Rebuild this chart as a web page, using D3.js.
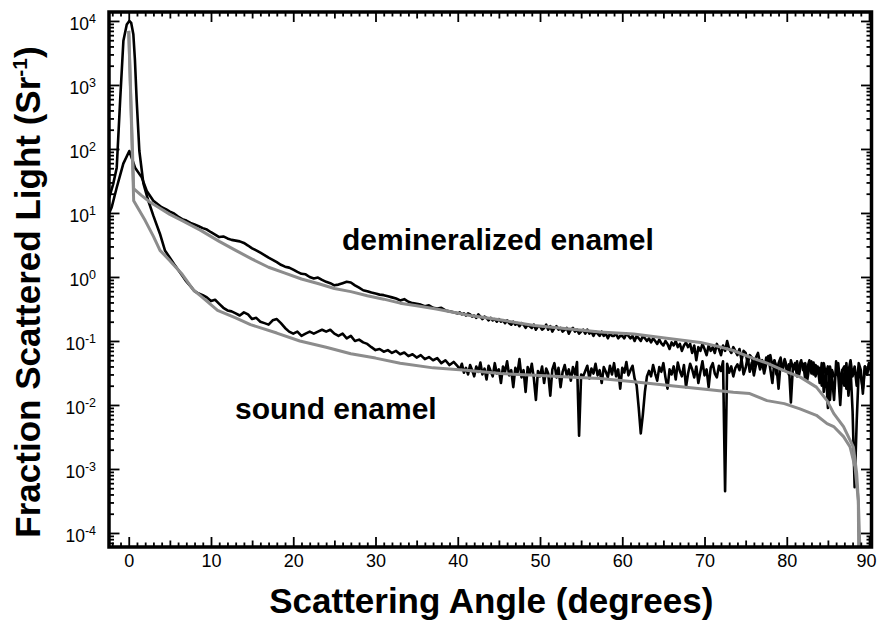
<!DOCTYPE html>
<html><head><meta charset="utf-8">
<script src="https://cdn.jsdelivr.net/npm/d3@7"></script>
<style>body{margin:0;background:#fff}svg{display:block}</style>
</head><body>
<svg id="chart" width="878" height="625"></svg>
<script>
// ---------------- DATA ----------------
const xTickValues = [0, 10, 20, 30, 40, 50, 60, 70, 80, 90];
const yTickExponents = [4, 3, 2, 1, 0, -1, -2, -3, -4];
const xTitle = "Scattering Angle (degrees)";
const yTitleMain = "Fraction Scattered Light (Sr";
const yTitleSup = "-1";
const labelDemin = "demineralized enamel";
const labelSound = "sound enamel";

// measured, sound enamel (black) – peak region
const soundHeadAngles = [-2.4, -1.9, -1.46, -1.05, -0.65, -0.24, 0.07, 0.3, 0.56, 0.75, 0.97, 1.29, 1.78, 2.38, 3.0, 3.8, 4.4];
const soundHeadValues = [17, 28, 51, 560, 4900, 8800, 10000, 9300, 6200, 2500, 560, 93, 29, 15.5, 9, 4.7, 2.6];
// 5.0 .. 39.5 every 0.5 deg
const soundMidValues = [2.0, 1.6, 1.3, 1.05, 0.85, 0.72, 0.60, 0.55, 0.52, 0.48,
  0.42, 0.44, 0.38, 0.33, 0.30, 0.29, 0.27, 0.25, 0.28, 0.26,
  0.22, 0.23, 0.20, 0.19, 0.18, 0.21, 0.22, 0.19, 0.16, 0.14,
  0.13, 0.14, 0.12, 0.13, 0.14, 0.13, 0.14, 0.15, 0.14, 0.15,
  0.13, 0.12, 0.13, 0.11, 0.12, 0.10, 0.105, 0.095, 0.09, 0.08,
  0.072, 0.075, 0.068, 0.072, 0.065, 0.07, 0.062, 0.066, 0.058, 0.062,
  0.055, 0.06, 0.052, 0.056, 0.05, 0.054, 0.045, 0.05, 0.042, 0.047];
// 40.0 .. 90.25 every 0.25 deg
const soundTailValues = [
  0.040, 0.036, 0.044, 0.032, 0.038, 0.030, 0.042, 0.035, 0.028, 0.040, 0.033, 0.046,
  0.030, 0.037, 0.025, 0.041, 0.034, 0.028, 0.045, 0.031, 0.036, 0.022, 0.040, 0.033,
  0.048, 0.029, 0.035, 0.019, 0.038, 0.031, 0.052, 0.027, 0.035, 0.016, 0.039, 0.030,
  0.044, 0.026, 0.012, 0.034, 0.028, 0.040, 0.022, 0.037, 0.031, 0.014, 0.036, 0.045,
  0.027, 0.038, 0.019, 0.033, 0.042, 0.029, 0.036, 0.024, 0.039, 0.030, 0.047, 0.0033,
  0.030, 0.028, 0.034, 0.041, 0.026, 0.037, 0.031, 0.044, 0.029, 0.035, 0.022, 0.039,
  0.033, 0.027, 0.041, 0.030, 0.045, 0.028, 0.036, 0.018, 0.038, 0.032, 0.047, 0.029,
  0.035, 0.041, 0.026, 0.020, 0.009, 0.0036, 0.007, 0.016, 0.028, 0.034, 0.028, 0.042,
  0.031, 0.024, 0.039, 0.033, 0.045, 0.027, 0.018, 0.036, 0.030, 0.040, 0.025, 0.046,
  0.034, 0.028, 0.042, 0.019, 0.031, 0.044, 0.036, 0.027, 0.040, 0.022, 0.033, 0.048,
  0.029, 0.036, 0.019, 0.038, 0.045, 0.031, 0.027, 0.041, 0.034, 0.048, 0.00045, 0.044,
  0.032, 0.040, 0.028, 0.038, 0.043, 0.035, 0.052, 0.030, 0.038, 0.056, 0.033, 0.046,
  0.029, 0.042, 0.050, 0.036, 0.047, 0.031, 0.044, 0.058, 0.036, 0.022, 0.049, 0.040,
  0.018, 0.045, 0.038, 0.052, 0.034, 0.043, 0.011, 0.040, 0.036, 0.048, 0.030, 0.044,
  0.044, 0.025, 0.038, 0.050, 0.031, 0.046, 0.028, 0.040, 0.022, 0.045, 0.016, 0.036,
  0.009, 0.040, 0.027, 0.012, 0.048, 0.030, 0.010, 0.035, 0.020, 0.045, 0.014, 0.038,
  0.008, 0.00052, 0.0055, 0.035, 0.028, 0.018, 0.040, 0.030, 0.045, 0.033];

// measured, demineralized enamel (black)
const deminHeadAngles = [-2.4, -2.07, -1.46, -0.66, 0.07, 0.77, 1.58, 2.19, 2.99, 4.0, 4.5];
const deminHeadValues = [9.8, 12.3, 25, 59, 93, 51, 36, 22, 15.5, 12.3, 11.5];
const deminMidValues = [10.5, 9.8, 8.8, 8.0, 7.6, 7.0, 6.6, 6.2, 5.8, 5.5,
  5.0, 4.6, 4.2, 4.3, 4.0, 3.8, 3.7, 3.6, 3.4, 3.1,
  2.8, 2.6, 2.4, 2.2, 2.0, 1.85, 1.7, 1.55, 1.45, 1.40,
  1.3, 1.2, 1.12, 1.1, 1.0, 0.95, 0.98, 0.90, 0.84, 0.80,
  0.74, 0.76, 0.80, 0.84, 0.82, 0.74, 0.68, 0.62, 0.60, 0.57,
  0.55, 0.53, 0.52, 0.50, 0.48, 0.46, 0.43, 0.45, 0.41, 0.39,
  0.38, 0.37, 0.35, 0.36, 0.33, 0.32, 0.33, 0.30, 0.29, 0.28];
const deminTailValues = [
  0.27, 0.28, 0.26, 0.27, 0.25, 0.27, 0.26, 0.24, 0.25, 0.23, 0.26, 0.24,
  0.22, 0.24, 0.23, 0.21, 0.23, 0.21, 0.22, 0.20, 0.22, 0.20, 0.21, 0.19,
  0.21, 0.19, 0.18, 0.20, 0.18, 0.19, 0.17, 0.19, 0.18, 0.16, 0.18, 0.17,
  0.16, 0.18, 0.15, 0.17, 0.17, 0.15, 0.16, 0.18, 0.15, 0.17, 0.14, 0.16,
  0.17, 0.15, 0.16, 0.14, 0.15, 0.16, 0.13, 0.15, 0.16, 0.14, 0.15, 0.13,
  0.14, 0.15, 0.13, 0.15, 0.13, 0.14, 0.12, 0.14, 0.13, 0.12, 0.14, 0.12,
  0.13, 0.11, 0.13, 0.12, 0.12, 0.13, 0.11, 0.12, 0.12, 0.11, 0.13, 0.12,
  0.11, 0.12, 0.10, 0.12, 0.11, 0.10, 0.12, 0.11, 0.10, 0.11, 0.095, 0.11,
  0.10, 0.09, 0.105, 0.092, 0.085, 0.10, 0.09, 0.075, 0.095, 0.085, 0.10, 0.08,
  0.09, 0.07, 0.085, 0.095, 0.08, 0.09, 0.065, 0.085, 0.05, 0.08, 0.07, 0.09,
  0.075, 0.06, 0.085, 0.07, 0.08, 0.065, 0.09, 0.075, 0.06, 0.085, 0.07, 0.10,
  0.075, 0.065, 0.08, 0.07, 0.06, 0.075, 0.05, 0.07, 0.065, 0.045, 0.06, 0.055,
  0.04, 0.055, 0.065, 0.045, 0.05, 0.035, 0.055, 0.045, 0.06, 0.04, 0.05, 0.03,
  0.045, 0.055, 0.035, 0.05, 0.04, 0.03, 0.05, 0.038, 0.045, 0.028, 0.04, 0.05,
  0.035, 0.045, 0.025, 0.04, 0.048, 0.03, 0.042, 0.035, 0.038, 0.02, 0.045, 0.03,
  0.04, 0.012, 0.035, 0.028, 0.03, 0.045, 0.022, 0.035, 0.04, 0.018, 0.033, 0.05,
  0.028, 0.04, 0.02, 0.045, 0.035, 0.015, 0.04, 0.03, 0.045, 0.035];

// model fits (grey)
const deminFitAngles = [0.0, 0.6, 1.5, 2.5, 3.6, 5, 6.5, 8.7, 11, 13, 15, 17, 19, 21, 23, 25, 27, 29, 31, 33, 35, 37.4, 41.5, 45.5, 49.3, 53.3, 57.3, 61.4, 65.4, 69.5, 71.5, 73.5, 75.5, 77.6, 80.0, 81.6, 83.6, 84.9, 85.7, 86.9, 88.1, 88.5, 88.7, 88.75];
const deminFitValues = [7000, 24, 19, 15, 12.3, 9.5, 7.6, 5.4, 3.6, 2.6, 1.9, 1.42, 1.15, 0.93, 0.79, 0.66, 0.59, 0.51, 0.45, 0.39, 0.355, 0.316, 0.25, 0.21, 0.174, 0.155, 0.138, 0.129, 0.11, 0.095, 0.083, 0.071, 0.056, 0.045, 0.033, 0.0275, 0.019, 0.0117, 0.0074, 0.0046, 0.0022, 0.00085, 0.00032, 0.00003];
const soundFitAngles = [0.0, 0.6, 2, 3, 3.8, 5.0, 6.5, 7.9, 8.7, 10.8, 13, 14.8, 18, 20.8, 24, 27, 30, 33, 37, 41, 45.2, 50, 54, 57.3, 61.4, 65.4, 69.5, 73.5, 75.5, 77.6, 79.7, 81.6, 83.6, 84.9, 85.7, 86.9, 87.7, 88.3, 88.7, 88.85, 88.9];
const soundFitValues = [7000, 15.5, 7.6, 4.3, 2.6, 1.8, 1.1, 0.62, 0.51, 0.30, 0.23, 0.18, 0.133, 0.10, 0.08, 0.063, 0.054, 0.045, 0.038, 0.035, 0.031, 0.029, 0.027, 0.026, 0.023, 0.0204, 0.018, 0.0158, 0.0151, 0.0117, 0.0105, 0.0087, 0.0069, 0.0051, 0.0046, 0.0032, 0.0022, 0.00107, 0.00032, 0.00008, 0.00003];

// sampling grids of the measured curves
const midAngles = d3.range(5, 40, 0.5);
const tailAngles = d3.range(40, 90.5, 0.25);

// ---------------- CHART ----------------
const svg = d3.select("#chart");
const FONT = "'Liberation Sans', Arial, Helvetica, sans-serif";
const L = 109, R = 871.5, T = 12, B = 547;

const x = d3.scaleLinear().domain([-2.4, 90.3]).range([L, R]);
const y = d3.scaleLog().domain([Math.pow(10, -4.219), Math.pow(10, 4.14)]).range([B, T]);

function pairs(a, v) { return a.map((d, i) => [d, v[i]]); }
const soundMeasured = pairs(soundHeadAngles, soundHeadValues)
  .concat(pairs(midAngles, soundMidValues), pairs(tailAngles, soundTailValues));
const deminMeasured = pairs(deminHeadAngles, deminHeadValues)
  .concat(pairs(midAngles, deminMidValues), pairs(tailAngles, deminTailValues));
const deminFit = pairs(deminFitAngles, deminFitValues);
const soundFit = pairs(soundFitAngles, soundFitValues);

svg.append("defs").append("clipPath").attr("id", "plotclip")
  .append("rect").attr("x", L).attr("y", T).attr("width", R - L).attr("height", B - T);

const line = d3.line().x(d => x(d[0])).y(d => y(d[1]));
const plot = svg.append("g").attr("clip-path", "url(#plotclip)");
[deminMeasured, soundMeasured].forEach(s => {
  plot.append("path").datum(s).attr("d", line).attr("fill", "none")
    .attr("stroke", "#000").attr("stroke-width", 2.6).attr("stroke-linejoin", "round");
});
[deminFit, soundFit].forEach(s => {
  plot.append("path").datum(s).attr("d", line).attr("fill", "none")
    .attr("stroke", "#8c8c8c").attr("stroke-width", 3).attr("stroke-linejoin", "round");
});

// ticks
const xMinor = d3.range(-2, 91, 1).filter(v => v % 5 !== 0);
const xMid = d3.range(5, 91, 10);
const yMinor = [];
for (let e = -5; e <= 4; e++) for (let k = 2; k <= 9; k++) {
  const v = k * Math.pow(10, e);
  if (v > y.domain()[0] && v < y.domain()[1]) yMinor.push(v);
}
const yMajor = yTickExponents.map(e => Math.pow(10, e));

function styleAxis(g) {
  g.select(".domain").remove();
  g.selectAll(".tick line").attr("stroke", "#000").attr("stroke-width", 1.8);
}
// bottom
svg.append("g").attr("transform", `translate(0,${B})`)
  .call(d3.axisBottom(x).tickValues(xMinor).tickSize(-4.5).tickFormat("")).call(styleAxis);
svg.append("g").attr("transform", `translate(0,${B})`)
  .call(d3.axisBottom(x).tickValues(xMid).tickSize(-6.5).tickFormat("")).call(styleAxis);
const xb = svg.append("g").attr("transform", `translate(0,${B})`)
  .call(d3.axisBottom(x).tickValues(xTickValues).tickSize(-10).tickPadding(7).tickFormat(d3.format("d")))
  .call(styleAxis);
xb.selectAll(".tick text").attr("font-family", FONT).attr("font-size", 18).attr("fill", "#000")
  .attr("dx", d => d === 90 ? -3 : 0);
// top
svg.append("g").attr("transform", `translate(0,${T})`)
  .call(d3.axisTop(x).tickValues(xMinor).tickSize(-4.5).tickFormat("")).call(styleAxis);
svg.append("g").attr("transform", `translate(0,${T})`)
  .call(d3.axisTop(x).tickValues(xMid).tickSize(-6.5).tickFormat("")).call(styleAxis);
svg.append("g").attr("transform", `translate(0,${T})`)
  .call(d3.axisTop(x).tickValues(xTickValues).tickSize(-10).tickFormat("")).call(styleAxis);
// left
svg.append("g").attr("transform", `translate(${L},0)`)
  .call(d3.axisLeft(y).tickValues(yMinor).tickSize(-5).tickFormat("")).call(styleAxis);
const yl = svg.append("g").attr("transform", `translate(${L},0)`)
  .call(d3.axisLeft(y).tickValues(yMajor).tickSize(-10.5).tickPadding(13).tickFormat(""))
  .call(styleAxis);
yl.selectAll(".tick text").each(function (d) {
  const t = d3.select(this).attr("font-family", FONT).attr("font-size", 17.5)
    .attr("fill", "#000").attr("dy", "0.5em");
  const e = Math.round(Math.log10(d));
  t.append("tspan").text("10");
  t.append("tspan").attr("dy", "-0.6em").attr("font-size", 12.5).text(String(e));
});
// right
svg.append("g").attr("transform", `translate(${R},0)`)
  .call(d3.axisRight(y).tickValues(yMinor).tickSize(-5).tickFormat("")).call(styleAxis);
svg.append("g").attr("transform", `translate(${R},0)`)
  .call(d3.axisRight(y).tickValues(yMajor).tickSize(-10.5).tickFormat("")).call(styleAxis);

// frame
svg.append("rect").attr("x", L).attr("y", T).attr("width", R - L).attr("height", B - T)
  .attr("fill", "none").attr("stroke", "#000").attr("stroke-width", 3.5);

// titles
svg.append("text").attr("x", (L + R) / 2 + 1).attr("y", 613).attr("text-anchor", "middle")
  .attr("font-family", FONT).attr("font-weight", "bold").attr("font-size", 35).text(xTitle);
const yt = svg.append("text").attr("transform", "translate(40,292) rotate(-90)")
  .attr("text-anchor", "middle").attr("font-family", FONT).attr("font-weight", "bold")
  .attr("font-size", 35);
yt.append("tspan").text(yTitleMain);
yt.append("tspan").attr("dy", -13).attr("font-size", 21).text(yTitleSup);
yt.append("tspan").attr("dy", 13).text(")");

// annotations
svg.append("text").attr("x", 342).attr("y", 250).attr("font-family", FONT)
  .attr("font-weight", "bold").attr("font-size", 30).text(labelDemin);
svg.append("text").attr("x", 235).attr("y", 419).attr("font-family", FONT)
  .attr("font-weight", "bold").attr("font-size", 30).text(labelSound);
</script>
</body></html>
